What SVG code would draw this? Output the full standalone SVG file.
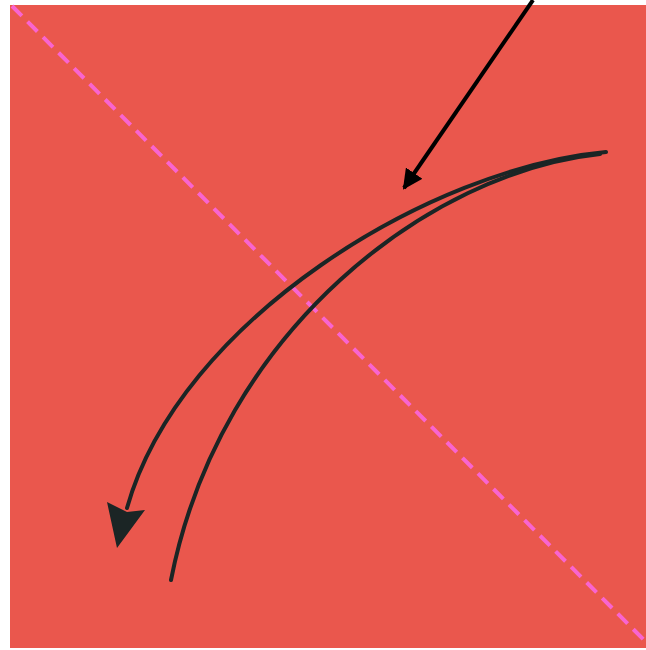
<svg xmlns="http://www.w3.org/2000/svg" width="646" height="650" viewBox="0 0 646 650">
<style>
.paper{fill:#ea574d}
.crease{stroke:#f964d0;stroke-width:4;stroke-dasharray:14 8;fill:none}
.curve{stroke:#1b2525;stroke-width:4;fill:none;stroke-linecap:round}
.straight{stroke:#000;stroke-width:4;fill:none}
</style>
<defs>
<marker id="ah" viewBox="0 0 10 10" refX="9" refY="5" markerWidth="5" markerHeight="5" orient="auto" markerUnits="strokeWidth">
<path d="M0,0 L10,5 L0,10 z" fill="#000"/>
</marker>
</defs>
<rect width="646" height="650" fill="#fff"/>
<g id="paper"><rect class="paper" x="10" y="5" width="636" height="643"/></g>
<g id="crease"><line class="crease" x1="12" y1="6" x2="646" y2="642"/></g>
<g id="connectors">
<line class="straight" x1="533" y1="0" x2="404" y2="188" marker-end="url(#ah)"/>
<path class="curve" d="M606,152 C430,168 180,320 127,508"/>
<path class="curve" d="M600,154 C430,172 220,330 171,580"/>
<path d="M117,548 L107,502 L127,512 L145,510 Z" fill="#1b2525"/>
</g>
</svg>
